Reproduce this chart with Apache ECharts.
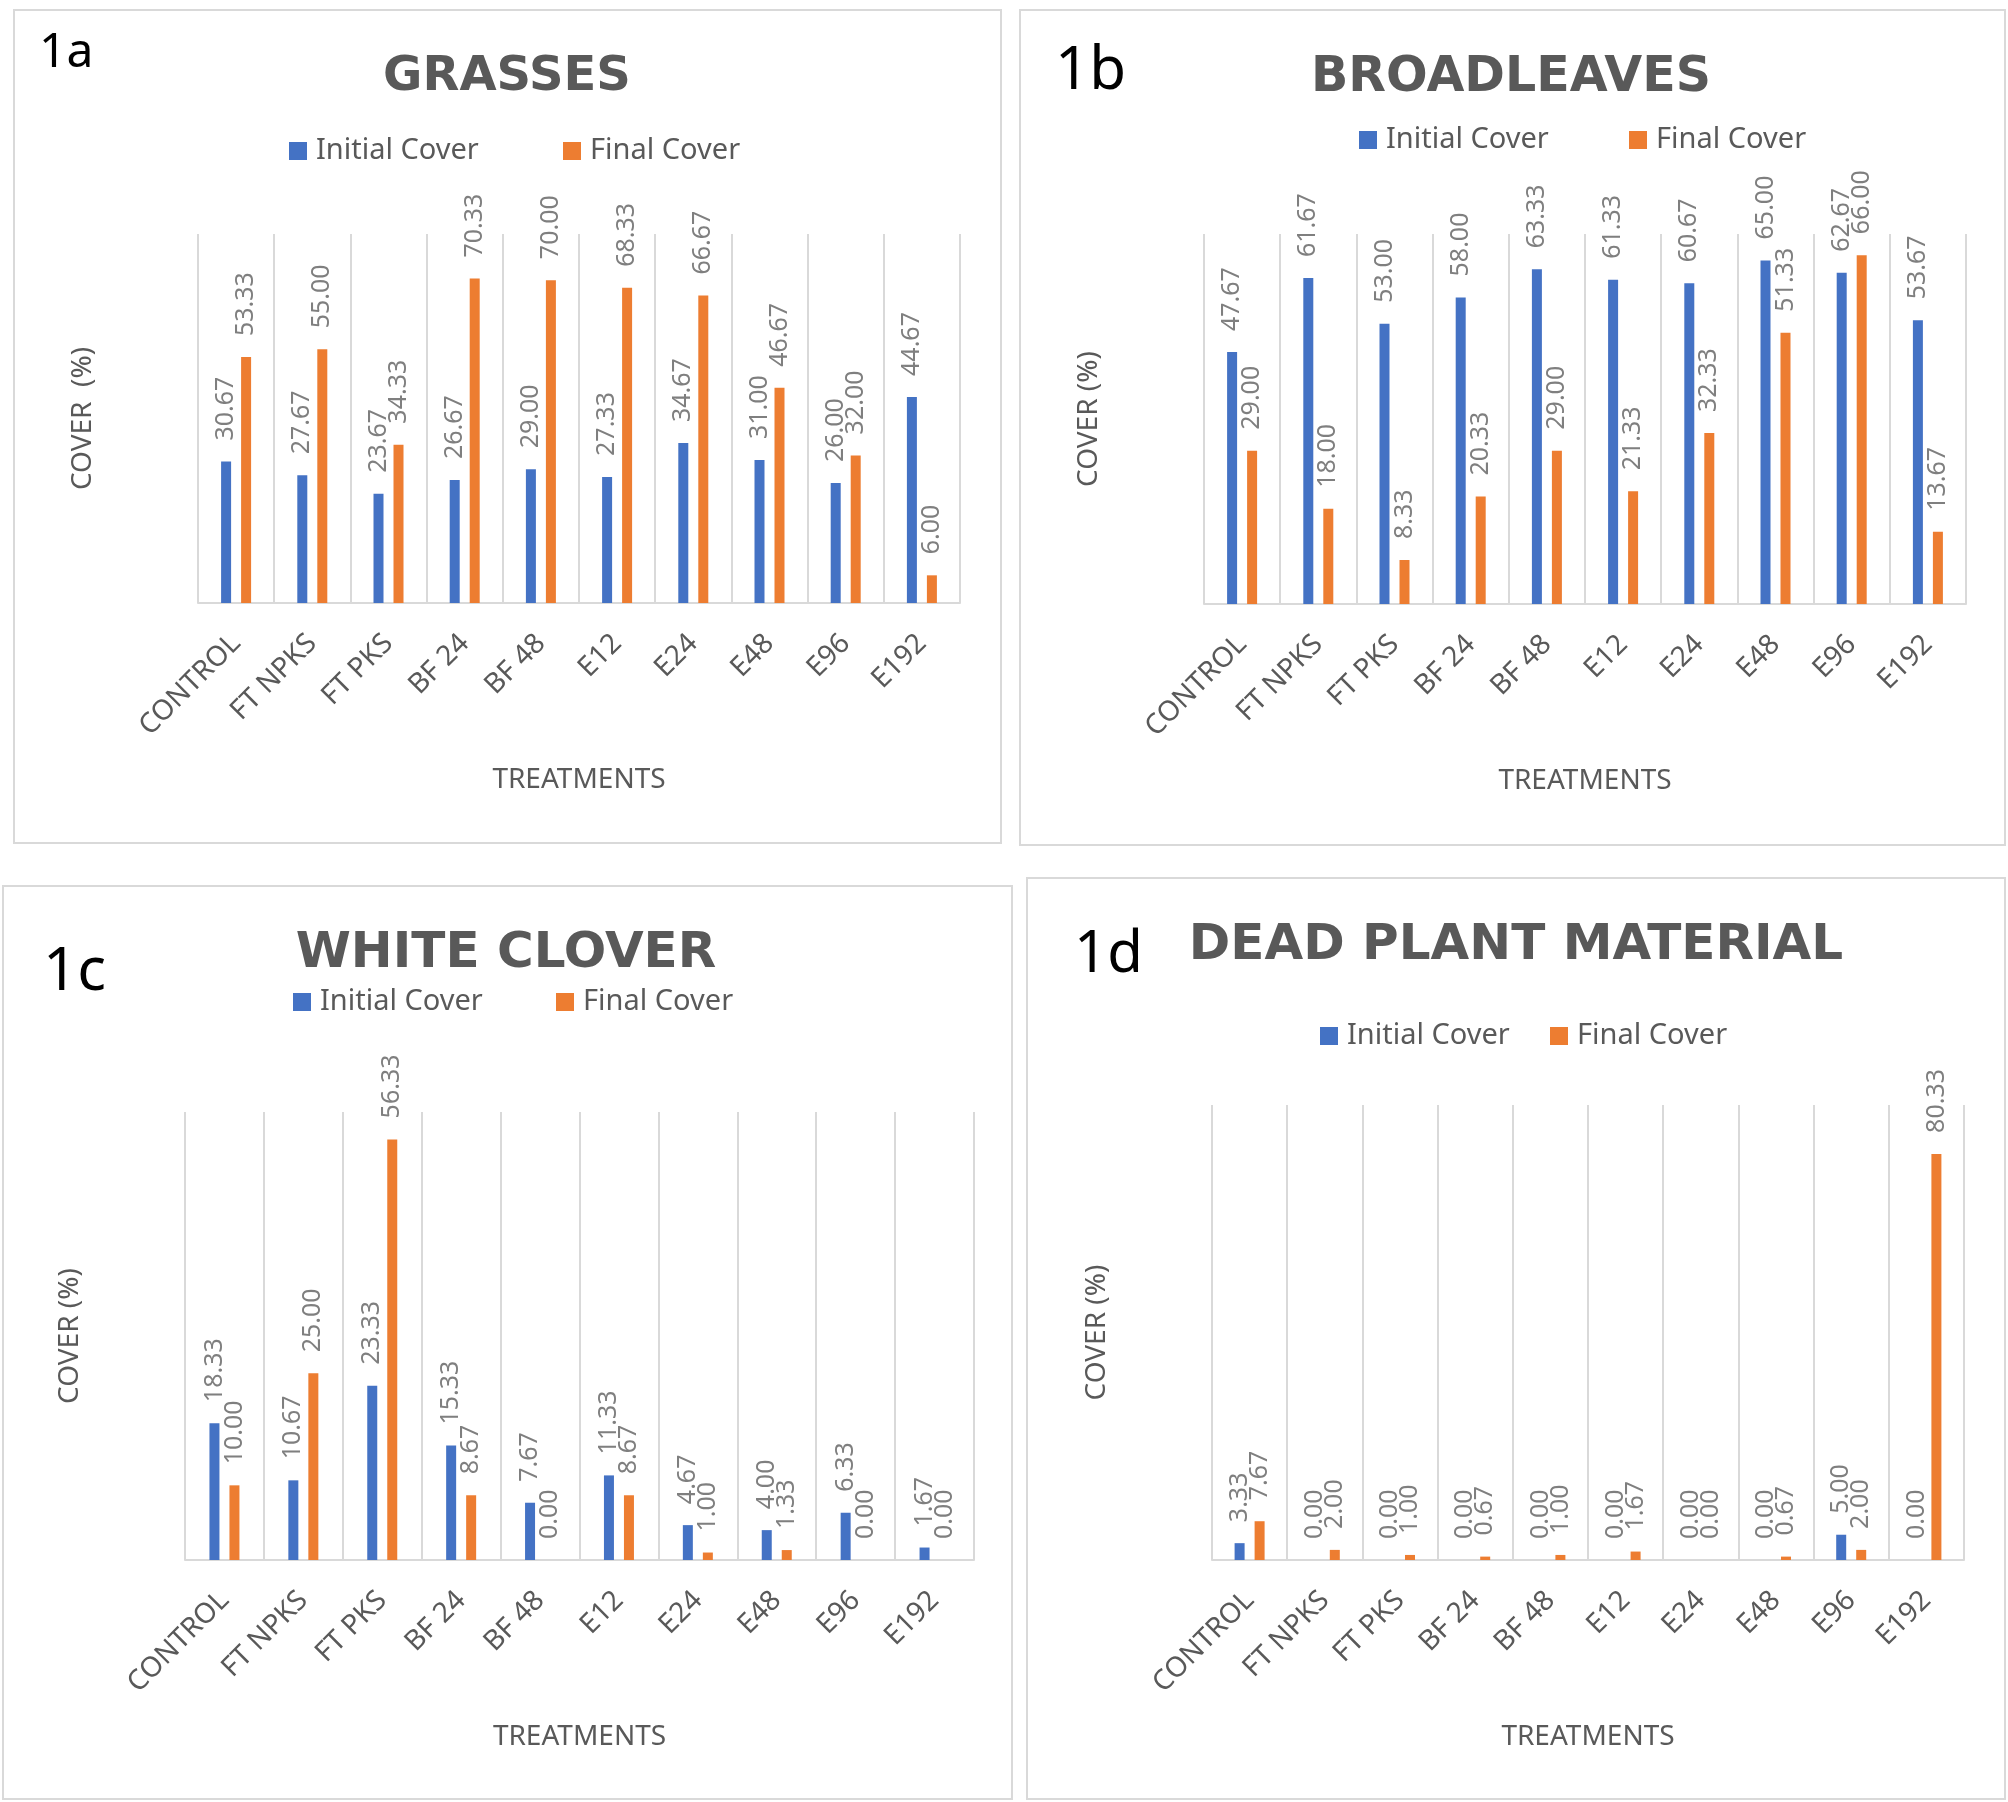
<!DOCTYPE html>
<html>
<head>
<meta charset="utf-8">
<title>Cover by treatment</title>
<script src="https://cdn.jsdelivr.net/npm/echarts@6/dist/echarts.min.js"></script>
<style>
html, body { margin: 0; padding: 0; background: #fff; }
#main { width: 2008px; height: 1802px; }
</style>
</head>
<body>
<div id="main"></div>
<script>
//处理 (treatments), same on every panel
var treatments = ['CONTROL', 'FT NPKS', 'FT PKS', 'BF 24', 'BF 48', 'E12', 'E24', 'E48', 'E96', 'E192'];

//1a grasses
var grassInitial = [30.67, 27.67, 23.67, 26.67, 29.00, 27.33, 34.67, 31.00, 26.00, 44.67];
var grassFinal = [53.33, 55.00, 34.33, 70.33, 70.00, 68.33, 66.67, 46.67, 32.00, 6.00];
//1b broadleaves
var broadInitial = [47.67, 61.67, 53.00, 58.00, 63.33, 61.33, 60.67, 65.00, 62.67, 53.67];
var broadFinal = [29.00, 18.00, 8.33, 20.33, 29.00, 21.33, 32.33, 51.33, 66.00, 13.67];
//1c white clover
var cloverInitial = [18.33, 10.67, 23.33, 15.33, 7.67, 11.33, 4.67, 4.00, 6.33, 1.67];
var cloverFinal = [10.00, 25.00, 56.33, 8.67, 0.00, 8.67, 1.00, 1.33, 0.00, 0.00];
//1d dead plant material
var deadInitial = [3.33, 0.00, 0.00, 0.00, 0.00, 0.00, 0.00, 0.00, 5.00, 0.00];
var deadFinal = [7.67, 2.00, 1.00, 0.67, 1.00, 1.67, 0.00, 0.67, 2.00, 80.33];

var panelTags = ['1a', '1b', '1c', '1d'];
var panelTitles = ['GRASSES', 'BROADLEAVES', 'WHITE CLOVER', 'DEAD PLANT MATERIAL'];
var yNames = ['COVER  (%)', 'COVER (%)', 'COVER (%)', 'COVER (%)'];
var yMax = [80, 70, 60, 90];
var seriesNames = ['Initial Cover', 'Final Cover'];
var initialData = [grassInitial, broadInitial, cloverInitial, deadInitial];
var finalData = [grassFinal, broadFinal, cloverFinal, deadFinal];

//panel placement (pixels): frame, plot area, tag, title, legend
var panels = [
	{box: [14, 10, 987, 833], grid: [198, 234, 762, 369], tag: [39, 53, 48], title: [507, 78, 48], legend: [289, 563, 151]},
	{box: [1020, 10, 985, 835], grid: [1204, 234, 762, 370], tag: [1055, 72, 60], title: [1511, 78, 49], legend: [1359, 1629, 140]},
	{box: [3, 886, 1009, 913], grid: [185, 1112, 789, 448], tag: [43, 973, 60], title: [506, 954, 50], legend: [293, 556, 1002]},
	{box: [1027, 878, 978, 921], grid: [1212, 1105, 752, 455], tag: [1074, 955, 58], title: [1516, 946, 50], legend: [1320, 1550, 1036]}
];

var blue = '#4472C4';
var orange = '#ED7D31';
var textGrey = '#595959';
var lineGrey = '#d9d9d9';

var chart = echarts.init(document.getElementById('main'));

var grids = [];
var xAxes = [];
var yAxes = [];
var series = [];
var legends = [];
var graphics = [];

function barSeries(name, data, idx, color) {
	return {
		name: name,
		type: 'bar',
		xAxisIndex: idx,
		yAxisIndex: idx,
		data: data,
		barWidth: 10,
		barGap: '100%',
		itemStyle: {color: color},
		label: {
			show: true,
			position: 'top',
			rotate: 90,
			align: 'left',
			verticalAlign: 'middle',
			distance: 21,
			color: '#7f7f7f',
			fontSize: 25,
			fontFamily: 'Noto Sans',
			formatter: function(p) {
				return p.value.toFixed(2);
			}
		}
	};
}

function legendItem(name, left, cy) {
	return {
		data: [name],
		left: left,
		top: cy - 15,
		padding: 0,
		icon: 'rect',
		itemWidth: 18,
		itemHeight: 18,
		selectedMode: false,
		textStyle: {color: textGrey, fontSize: 29, lineHeight: 30, fontFamily: 'Noto Sans', padding: [0, 0, 0, 4]}
	};
}

panels.forEach(function(p, i) {
	grids.push({left: p.grid[0], top: p.grid[1], width: p.grid[2], height: p.grid[3], containLabel: false});
	xAxes.push({
		type: 'category',
		gridIndex: i,
		data: treatments,
		axisLine: {lineStyle: {color: lineGrey, width: 2}},
		axisTick: {show: false},
		splitLine: {show: true, interval: 0, lineStyle: {color: lineGrey, width: 2}},
		axisLabel: {interval: 0, rotate: 45, margin: 36, color: textGrey, fontSize: 28, fontFamily: 'Noto Sans'},
		name: 'TREATMENTS',
		nameLocation: 'middle',
		nameGap: 163,
		nameTextStyle: {color: textGrey, fontSize: 28, fontFamily: 'Noto Sans'}
	});
	yAxes.push({
		type: 'value',
		gridIndex: i,
		min: 0,
		max: yMax[i],
		axisLabel: {show: false},
		axisLine: {show: false},
		axisTick: {show: false},
		splitLine: {show: false},
		name: yNames[i],
		nameLocation: 'middle',
		nameGap: 101,
		nameTextStyle: {color: textGrey, fontSize: 28, fontFamily: 'Noto Sans'}
	});
	series.push(barSeries(seriesNames[0], initialData[i], i, blue));
	series.push(barSeries(seriesNames[1], finalData[i], i, orange));
	legends.push(legendItem(seriesNames[0], p.legend[0], p.legend[2]));
	legends.push(legendItem(seriesNames[1], p.legend[1], p.legend[2]));

	//panel frame
	graphics.push({
		type: 'rect',
		silent: true,
		shape: {x: p.box[0], y: p.box[1], width: p.box[2], height: p.box[3]},
		style: {fill: 'none', stroke: lineGrey, lineWidth: 2}
	});
	//panel tag (1a..1d)
	graphics.push({
		type: 'text',
		silent: true,
		x: p.tag[0],
		y: p.tag[1],
		style: {
			text: panelTags[i],
			font: p.tag[2] + 'px "Noto Sans"',
			fill: '#000',
			align: 'left', textAlign: 'left',
			verticalAlign: 'middle', textVerticalAlign: 'middle'
		}
	});
	//chart title
	graphics.push({
		type: 'text',
		silent: true,
		x: p.title[0],
		y: p.title[1],
		style: {
			text: panelTitles[i],
			font: 'bold ' + p.title[2] + 'px "DejaVu Sans"',
			fill: textGrey,
			align: 'center', textAlign: 'center',
			verticalAlign: 'middle', textVerticalAlign: 'middle'
		}
	});
});

chart.setOption({
	animation: false,
	backgroundColor: '#fff',
	grid: grids,
	xAxis: xAxes,
	yAxis: yAxes,
	legend: legends,
	series: series,
	graphic: graphics
});
</script>
</body>
</html>
